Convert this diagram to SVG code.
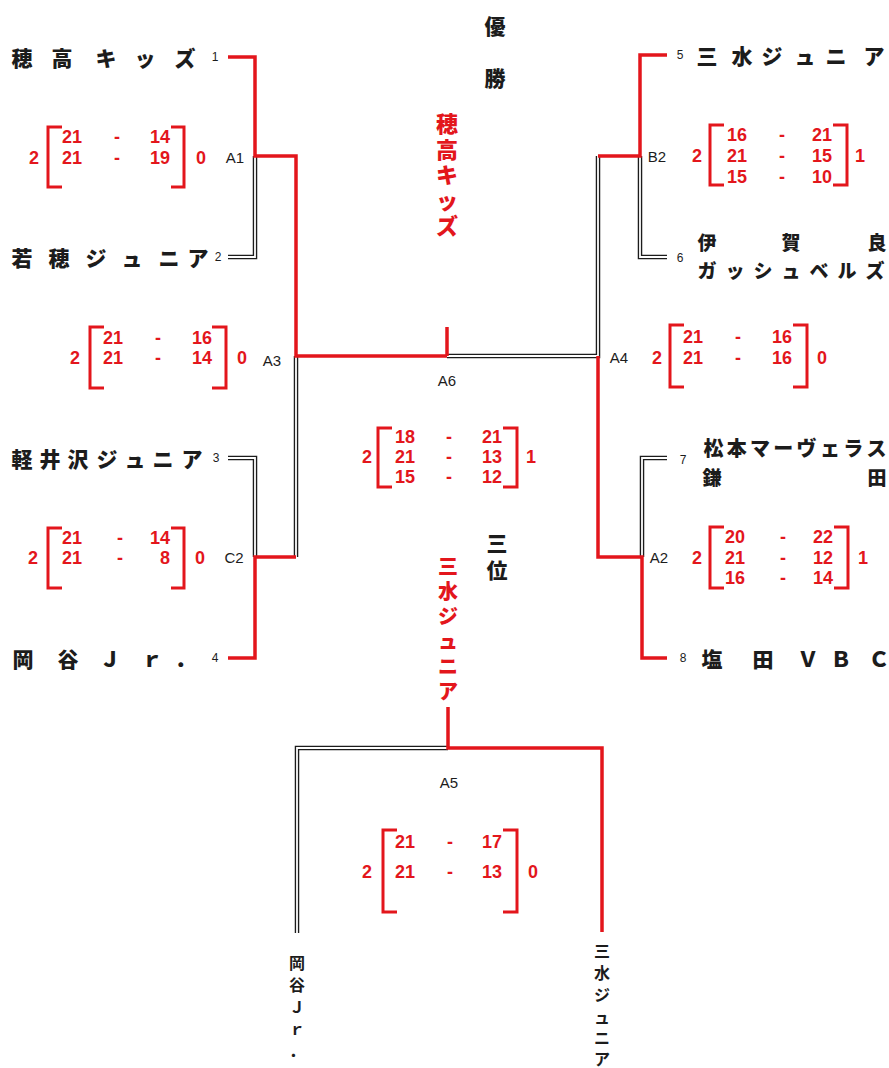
<svg xmlns="http://www.w3.org/2000/svg" width="889" height="1068" viewBox="0 0 889 1068">
<style>
text{dominant-baseline:central}
.nm{font-family:"Noto Sans CJK JP","Noto Sans CJK SC",sans-serif;font-weight:900;font-size:21px;fill:#1c1c1c;text-anchor:middle}
.nms{font-size:19px}
.nmr{font-family:"Noto Sans CJK JP","Noto Sans CJK SC",sans-serif;font-weight:900;font-size:22px;fill:#e3161c;text-anchor:middle}
.vs{font-family:"Noto Sans CJK JP","Noto Sans CJK SC",sans-serif;font-weight:700;font-size:16px;fill:#1c1c1c;text-anchor:middle}
.no{font-family:"Liberation Sans",Arial,sans-serif;font-size:12px;fill:#1c1c1c;text-anchor:middle}
.lbl{font-family:"Liberation Sans",Arial,sans-serif;font-size:15px;fill:#1c1c1c;text-anchor:middle}
.sc{font-family:"Liberation Sans Narrow","Liberation Sans",Arial,sans-serif;font-weight:bold;font-size:18px;fill:#e3161c}
.s1{text-anchor:start}.sd{text-anchor:middle}.s2{text-anchor:end}
.brk{fill:none;stroke:#e3161c;stroke-width:3}
.red{fill:none;stroke:#e3161c;stroke-width:3.5}
.dbl{fill:none;stroke:#1c1c1c;stroke-width:4.5}
.dbw{fill:none;stroke:#ffffff;stroke-width:1.8}
</style>
<rect width="889" height="1068" fill="#ffffff"/>

<g id="connectors">
  <g id="black-double">
    <path class="dbl" d="M228,257 H255 V156"/>
    <path class="dbl" d="M228,458 H255 V557"/>
    <path class="dbl" d="M296,356 V557"/>
    <path class="dbl" d="M447,356 H598 V156"/>
    <path class="dbl" d="M640,156 V257 H667"/>
    <path class="dbl" d="M667,458 H642 V557"/>
    <path class="dbl" d="M448,748 H297 V933"/>
    <path class="dbw" d="M228,257 H255 V156"/>
    <path class="dbw" d="M228,458 H255 V557"/>
    <path class="dbw" d="M296,356 V557"/>
    <path class="dbw" d="M447,356 H598 V156"/>
    <path class="dbw" d="M640,156 V257 H667"/>
    <path class="dbw" d="M667,458 H642 V557"/>
    <path class="dbw" d="M448,748 H297 V933"/>
  </g>
  <g id="red-lines">
    <path class="red" d="M228,57 H255 V156 H296 V356 H447"/>
    <path class="red" d="M447,327 V356"/>
    <path class="red" d="M228,658 H255 V557 H296"/>
    <path class="red" d="M667,55 H640 V156 H598"/>
    <path class="red" d="M667,658 H642 V557 H598 V356"/>
    <path class="red" d="M448,707 V748 H602 V932"/>
  </g>
</g>

<g id="title-champion">
  <text class="nm" x="495" y="25">優</text>
  <text class="nm" x="495" y="77">勝</text>
  <text class="nmr" x="447 447 447 447 447" y="122 147.5 173 198.5 224">穂高キッズ</text>
</g>
<g id="title-third">
  <text class="nm" x="497 497" y="542 569">三位</text>
  <text class="nmr" x="448 448 448 448 448 448" y="565 590 615 640 665 690" style="font-size:20px">三水ジュニア</text>
</g>

<g id="team-1">
  <text class="nm" x="22 62 106 145 185" y="57">穂高キッズ</text>
  <text class="no" x="215" y="57">1</text>
</g>
<g id="team-2">
  <text class="nm" x="22 59 96 132 169 198" y="257">若穂ジュニア</text>
  <text class="no" x="218" y="257">2</text>
</g>
<g id="team-3">
  <text class="nm" x="22 50 78 107 135 163 192" y="458">軽井沢ジュニア</text>
  <text class="no" x="216" y="458">3</text>
</g>
<g id="team-4">
  <text class="nm" x="23 68 110 152 185" y="658">岡谷Ｊｒ．</text>
  <text class="no" x="215" y="658">4</text>
</g>
<g id="team-5">
  <text class="no" x="680" y="55">5</text>
  <text class="nm" x="707 742 772 805 836 874" y="55">三水ジュニア</text>
</g>
<g id="team-6">
  <text class="no" x="680" y="258">6</text>
  <text class="nm nms" x="707 791 877" y="241">伊賀良</text>
  <text class="nm nms" x="707 735 763 791 819 847 875" y="269">ガッシュベルズ</text>
</g>
<g id="team-7">
  <text class="no" x="683" y="460">7</text>
  <text class="nm nms" x="713.5 736.8 760 783.3 806.6 830 853.3 876.6" y="447" style="font-size:20px">松本マーヴェラス</text>
  <text class="nm nms" x="712 877" y="476">鎌田</text>
</g>
<g id="team-8">
  <text class="no" x="683" y="658">8</text>
  <text class="nm" x="712 763 808 841 879" y="658">塩田ＶＢＣ</text>
</g>

<g id="match-A1">
  <text class="lbl" x="235" y="157">A1</text>
  <path class="brk" d="M62,127 H48 V187 H62 M171,127 H184 V187 H171"/>
  <text class="sc s1" x="62" y="137">21</text><text class="sc sd" x="117" y="137">-</text><text class="sc s2" x="170" y="137">14</text>
  <text class="sc s1" x="62" y="158">21</text><text class="sc sd" x="117" y="158">-</text><text class="sc s2" x="170" y="158">19</text>
  <text class="sc sd" x="34" y="158">2</text><text class="sc sd" x="201" y="158">0</text>
</g>
<g id="match-A3">
  <text class="lbl" x="272" y="360">A3</text>
  <path class="brk" d="M104,327 H90 V388 H104 M212,327 H226 V388 H212"/>
  <text class="sc s1" x="103" y="338">21</text><text class="sc sd" x="158" y="338">-</text><text class="sc s2" x="212" y="338">16</text>
  <text class="sc s1" x="103" y="358">21</text><text class="sc sd" x="158" y="358">-</text><text class="sc s2" x="212" y="358">14</text>
  <text class="sc sd" x="75" y="358">2</text><text class="sc sd" x="242" y="358">0</text>
</g>
<g id="match-C2">
  <text class="lbl" x="234" y="557">C2</text>
  <path class="brk" d="M62,528 H48 V588 H62 M171,528 H184 V588 H171"/>
  <text class="sc s1" x="62" y="538">21</text><text class="sc sd" x="120" y="538">-</text><text class="sc s2" x="170" y="538">14</text>
  <text class="sc s1" x="62" y="558">21</text><text class="sc sd" x="120" y="558">-</text><text class="sc s2" x="170" y="558">8</text>
  <text class="sc sd" x="33" y="558">2</text><text class="sc sd" x="200" y="558">0</text>
</g>
<g id="match-B2">
  <text class="lbl" x="657" y="156">B2</text>
  <path class="brk" d="M724,125 H710 V185 H724 M833,125 H847 V185 H833"/>
  <text class="sc s1" x="727" y="135">16</text><text class="sc sd" x="782" y="135">-</text><text class="sc s2" x="832" y="135">21</text>
  <text class="sc s1" x="727" y="156">21</text><text class="sc sd" x="782" y="156">-</text><text class="sc s2" x="832" y="156">15</text>
  <text class="sc s1" x="727" y="177">15</text><text class="sc sd" x="782" y="177">-</text><text class="sc s2" x="832" y="177">10</text>
  <text class="sc sd" x="697" y="156">2</text><text class="sc sd" x="860" y="156">1</text>
</g>
<g id="match-A4">
  <text class="lbl" x="619" y="357">A4</text>
  <path class="brk" d="M684,325 H670 V387 H684 M793,325 H807 V387 H793"/>
  <text class="sc s1" x="683" y="337">21</text><text class="sc sd" x="738" y="337">-</text><text class="sc s2" x="792" y="337">16</text>
  <text class="sc s1" x="683" y="358">21</text><text class="sc sd" x="738" y="358">-</text><text class="sc s2" x="792" y="358">16</text>
  <text class="sc sd" x="657" y="358">2</text><text class="sc sd" x="822" y="358">0</text>
</g>
<g id="match-A2">
  <text class="lbl" x="659" y="557">A2</text>
  <path class="brk" d="M724,527 H710 V588 H724 M834,527 H848 V588 H834"/>
  <text class="sc s1" x="725" y="537">20</text><text class="sc sd" x="783" y="537">-</text><text class="sc s2" x="833" y="537">22</text>
  <text class="sc s1" x="725" y="558">21</text><text class="sc sd" x="783" y="558">-</text><text class="sc s2" x="833" y="558">12</text>
  <text class="sc s1" x="725" y="578">16</text><text class="sc sd" x="783" y="578">-</text><text class="sc s2" x="833" y="578">14</text>
  <text class="sc sd" x="697" y="558">2</text><text class="sc sd" x="863" y="558">1</text>
</g>
<g id="match-A6">
  <text class="lbl" x="447" y="380">A6</text>
  <path class="brk" d="M392,428 H378 V487 H392 M503,428 H517 V487 H503"/>
  <text class="sc s1" x="395" y="437">18</text><text class="sc sd" x="449" y="437">-</text><text class="sc s2" x="502" y="437">21</text>
  <text class="sc s1" x="395" y="457">21</text><text class="sc sd" x="449" y="457">-</text><text class="sc s2" x="502" y="457">13</text>
  <text class="sc s1" x="395" y="477">15</text><text class="sc sd" x="449" y="477">-</text><text class="sc s2" x="502" y="477">12</text>
  <text class="sc sd" x="367" y="457">2</text><text class="sc sd" x="531" y="457">1</text>
</g>
<g id="match-A5">
  <text class="lbl" x="449" y="782">A5</text>
  <path class="brk" d="M397,830 H383 V912 H397 M503,830 H517 V912 H503"/>
  <text class="sc s1" x="395" y="842">21</text><text class="sc sd" x="450" y="842">-</text><text class="sc s2" x="502" y="842">17</text>
  <text class="sc s1" x="395" y="872">21</text><text class="sc sd" x="450" y="872">-</text><text class="sc s2" x="502" y="872">13</text>
  <text class="sc sd" x="367" y="872">2</text><text class="sc sd" x="533" y="872">0</text>
</g>

<g id="third-place-left">
  <text class="vs" x="297 297 297 297 297" y="962 984 1006 1028 1050">岡谷Ｊｒ．</text>
</g>
<g id="third-place-right">
  <text class="vs" x="602 602 602 602 602 602" y="950 972 994 1016 1037 1058">三水ジュニア</text>
</g>
</svg>
